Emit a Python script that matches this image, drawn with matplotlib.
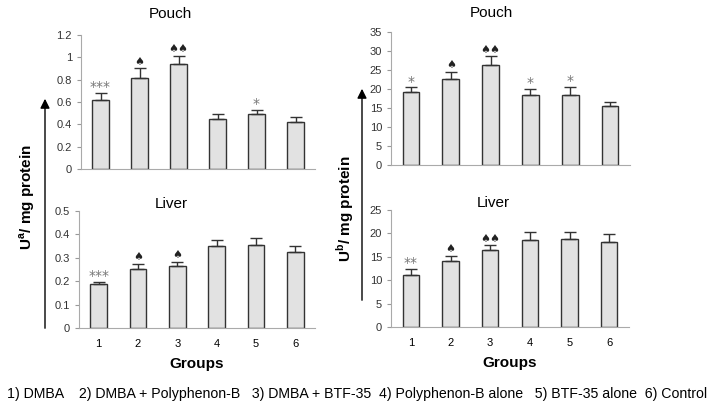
import matplotlib
matplotlib.use("Agg")
from matplotlib import pyplot as plt
import numpy as np

plt.rcParams["font.family"] = ["Liberation Sans", "DejaVu Sans"]

groups = [1, 2, 3, 4, 5, 6]

# Pouch / liver, units a (left) and b (right)
pouch_a = [0.62, 0.815, 0.94, 0.445, 0.495, 0.42]
pouch_a_err = [0.06, 0.09, 0.075, 0.045, 0.035, 0.045]
liver_a = [0.188, 0.254, 0.266, 0.349, 0.356, 0.325]
liver_a_err = [0.009, 0.021, 0.017, 0.028, 0.03, 0.027]
pouch_b = [19.3, 22.6, 26.4, 18.5, 18.5, 15.4]
pouch_b_err = [1.1, 2.0, 2.2, 1.5, 2.0, 1.3]
liver_b = [11.2, 14.0, 16.4, 18.6, 18.8, 18.2]
liver_b_err = [1.2, 1.2, 1.1, 1.6, 1.4, 1.7]

pouch_a_marks = ["***", "\u2660", "\u2660\u2660", "", "*", ""]
liver_a_marks = ["***", "\u2660", "\u2660", "", "", ""]
pouch_b_marks = ["*", "\u2660", "\u2660\u2660", "*", "*", ""]
liver_b_marks = ["**", "\u2660", "\u2660\u2660", "", "", ""]

legend_text = ("1) DMBA    2) DMBA + Polyphenon-B   3) DMBA + BTF-35  "
               "4) Polyphenon-B alone   5) BTF-35 alone  6) Control")

W, H = 714, 408
fig = plt.figure(figsize=(W / 100, H / 100), dpi=100)


def px_axes(x0, y0, x1, y1):
    # pixel box (top-left origin) -> figure axes
    return fig.add_axes([x0 / W, 1 - y1 / H, (x1 - x0) / W, (y1 - y0) / H])


def bar_panel(ax, vals, errs, marks, ymax, step, fmt, xlabels):
    ax.bar(groups, vals, width=0.42, color="#e2e2e2", edgecolor="#333333",
           linewidth=1.0, zorder=2)
    ax.errorbar(groups, vals, yerr=[np.zeros(len(errs)), errs], fmt="none",
                ecolor="#333333", elinewidth=1.0, capsize=4, capthick=1.0, zorder=3)
    for g, v, e, m in zip(groups, vals, errs, marks):
        if not m:
            continue
        spade = "\u2660" in m
        ax.annotate(m, (g, v + e), xytext=(0, 1 if spade else -1),
                    textcoords="offset points", ha="center", va="bottom",
                    fontsize=8 if spade else 10,
                    color="#222222" if spade else "#777777",
                    family=["DejaVu Sans"])
    ax.set_xlim(0.5, 6.5)
    ax.set_ylim(0, ymax)
    ticks = np.arange(0, ymax + step / 2, step)
    ax.set_yticks(ticks)
    ax.set_yticklabels([fmt(t) for t in ticks])
    ax.set_xticks(groups)
    if xlabels:
        ax.set_xticklabels([str(g) for g in groups])
    else:
        ax.set_xticklabels([])
    ax.tick_params(axis="x", length=0, labelsize=8, pad=8)
    ax.tick_params(axis="y", length=3, labelsize=8, color="#999999", colors="#333333")
    for s in ["top", "right"]:
        ax.spines[s].set_visible(False)
    for s in ["left", "bottom"]:
        ax.spines[s].set_color("#aaaaaa")


def fmt_a(t):
    return "0" if abs(t) < 1e-9 else ("%g" % round(t, 2))


def fmt_b(t):
    return "%d" % round(t)


ax1 = px_axes(81, 35, 315, 169)
bar_panel(ax1, pouch_a, pouch_a_err, pouch_a_marks, 1.2, 0.2, fmt_a, False)
ax1.set_title("Pouch", fontsize=11, x=0.38, pad=12)

ax2 = px_axes(79, 211, 315, 328)
bar_panel(ax2, liver_a, liver_a_err, liver_a_marks, 0.5, 0.1, fmt_a, True)
ax2.set_title("Liver", fontsize=11, x=0.39, pad=1)
ax2.set_xlabel("Groups", fontsize=11, fontweight="bold", labelpad=6)

ax3 = px_axes(391, 32, 630, 165)
bar_panel(ax3, pouch_b, pouch_b_err, pouch_b_marks, 35, 5, fmt_b, False)
ax3.set_title("Pouch", fontsize=11, x=0.42, pad=11)

ax4 = px_axes(391, 210, 629, 327)
bar_panel(ax4, liver_b, liver_b_err, liver_b_marks, 25, 5, fmt_b, True)
ax4.set_title("Liver", fontsize=11, x=0.43, pad=1)
ax4.set_xlabel("Groups", fontsize=11, fontweight="bold", labelpad=6)

# Vertical arrows + y labels
for x, ytop, ybot in [(45, 96, 331), (362, 86, 303)]:
    fig.add_artist(matplotlib.patches.FancyArrowPatch(
        (x / W, 1 - ybot / H), (x / W, 1 - ytop / H),
        transform=fig.transFigure, arrowstyle="-|>", mutation_scale=14,
        color="black", linewidth=1.0))

fig.text(27 / W, 1 - 197 / H, r"U$^{\mathregular{a}}$/ mg protein", rotation=90,
         ha="center", va="center", fontsize=11, fontweight="bold")
fig.text(345 / W, 1 - 209 / H, r"U$^{\mathregular{b}}$/ mg protein", rotation=90,
         ha="center", va="center", fontsize=11, fontweight="bold")

fig.text(357 / W, 1 - 394 / H, legend_text, ha="center", va="center", fontsize=10.2)

fig.savefig("out.png", dpi=100)
